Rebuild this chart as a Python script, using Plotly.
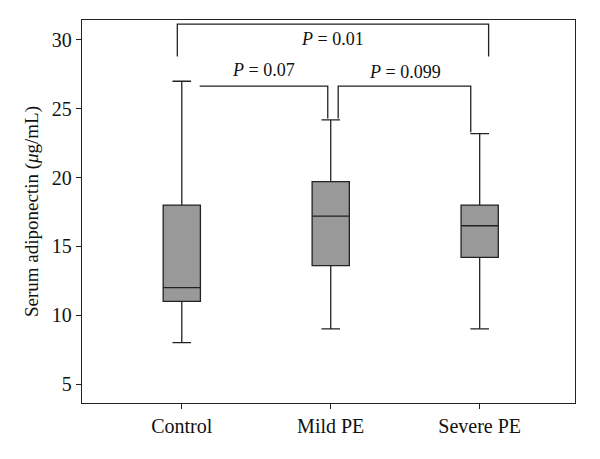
import plotly.graph_objects as go

# box summary values
groups = ["Control", "Mild PE", "Severe PE"]
lower = [8.0, 9.0, 9.0]
q1 = [11.0, 13.6, 14.2]
median = [12.0, 17.2, 16.5]
q3 = [18.0, 19.7, 18.0]
upper = [27.0, 24.2, 23.2]

# significance brackets
bracket_x0 = [-0.03, 0.12, 1.05]
bracket_x1 = [2.06, 0.98, 1.94]
bracket_y = [31.15, 26.65, 26.65]
bracket_y0 = [28.8, None, 24.3]
bracket_y1 = [28.8, 24.3, 23.3]
bracket_text = ["<i>P</i> = 0.01", "<i>P</i> = 0.07", "<i>P</i> = 0.099"]
label_x = [1.01, 0.55, 1.5]
label_y = [30.1, 27.85, 27.7]

LINE = "#222222"
FONT = "Liberation Serif"

fig = go.Figure()
fig.add_trace(go.Box(
    x=groups,
    q1=q1, median=median, q3=q3,
    lowerfence=lower, upperfence=upper,
    fillcolor="#999999",
    line=dict(color=LINE, width=1.3),
    width=0.25,
    whiskerwidth=0.5,
    boxpoints=False,
    showlegend=False,
    hoverinfo="skip",
))

shapes = []
for i in range(len(bracket_x0)):
    x0, x1, y = bracket_x0[i], bracket_x1[i], bracket_y[i]
    path = f"M {x0} {y} L {x1} {y}"
    if bracket_y0[i] is not None:
        path = f"M {x0} {bracket_y0[i]} L {x0} {y} L {x1} {y}"
    if bracket_y1[i] is not None:
        path += f" L {x1} {bracket_y1[i]}"
    shapes.append(dict(type="path", path=path, xref="x", yref="y",
                       line=dict(color=LINE, width=1.3)))

annotations = []
for i in range(len(bracket_text)):
    annotations.append(dict(x=label_x[i], y=label_y[i], xref="x", yref="y",
                            text=bracket_text[i], showarrow=False,
                            yanchor="middle",
                            font=dict(family=FONT, size=18, color="#111111")))

# page body has an 8px margin, so the plot box is shifted by that much
fig.update_layout(
    width=600, height=459,
    margin=dict(l=74, r=33, t=12, b=64),
    plot_bgcolor="white",
    paper_bgcolor="white",
    font=dict(family=FONT, size=20, color="#111111"),
    shapes=shapes,
    annotations=annotations,
    xaxis=dict(
        type="category",
        range=[-0.67, 2.64],
        showgrid=False, zeroline=False,
        showline=True, mirror=True, linecolor=LINE, linewidth=1.3,
        ticks="outside", ticklen=5, tickcolor=LINE, tickwidth=1.3,
        tickfont=dict(family=FONT, size=20),
    ),
    yaxis=dict(
        range=[3.62, 31.45],
        tickvals=[5, 10, 15, 20, 25, 30],
        showgrid=False, zeroline=False,
        showline=True, mirror=True, linecolor=LINE, linewidth=1.3,
        ticks="outside", ticklen=5, tickcolor=LINE, tickwidth=1.3,
        tickfont=dict(family=FONT, size=20),
        title=dict(text="Serum adiponectin (<i>μ</i>g/mL)", font=dict(family=FONT, size=19), standoff=8),
    ),
)

fig.write_html("out.html")
